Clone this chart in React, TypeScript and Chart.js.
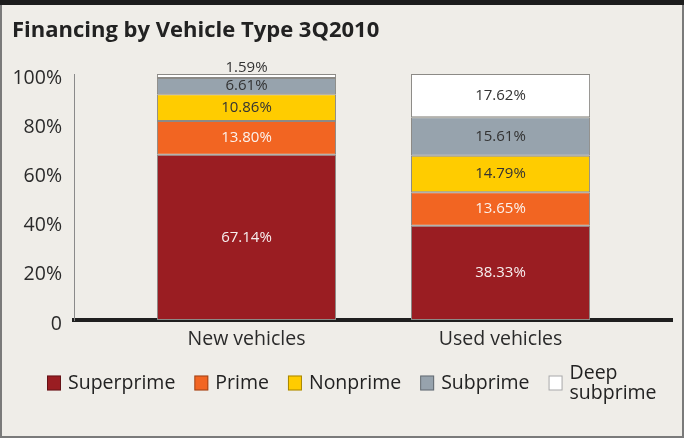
import React, { useEffect, useRef } from "react";
import { Chart, registerables } from "chart.js";

Chart.register(...registerables);

const categories = ["New vehicles", "Used vehicles"];
const seriesNames = ["Superprime", "Prime", "Nonprime", "Subprime", "Deep subprime"];
const superprime = [67.14, 38.33];
const prime = [13.8, 13.65];
const nonprime = [10.86, 14.79];
const subprime = [6.61, 15.61];
const deepSubprime = [1.59, 17.62];
const yTicks = [0, 20, 40, 60, 80, 100];
const title = "Financing by Vehicle Type 3Q2010";

const seriesValues = [superprime, prime, nonprime, subprime, deepSubprime];
const colors = ["#9a1d22", "#f26522", "#ffcc00", "#97a3ad", "#ffffff"];
const labelColors = ["#f7efef", "#fbf1ec", "#333333", "#333333", "#333333"];
const FONT = "'Open Sans', 'DejaVu Sans', sans-serif";

const framePlugin = {
  id: "frame",
  beforeDraw(chart: any) {
    const { ctx, width, height } = chart;
    ctx.save();
    ctx.fillStyle = "#efede8";
    ctx.fillRect(0, 0, width, height);
    ctx.fillStyle = "#1c1c1c";
    ctx.fillRect(0, 0, width, 5);
    ctx.fillStyle = "#7a7a7a";
    ctx.fillRect(0, 5, 2, height - 5);
    ctx.fillRect(width - 2, 5, 2, height - 5);
    ctx.fillRect(0, height - 2, width, 2);
    ctx.fillStyle = "#222222";
    ctx.font = `bold 22px ${FONT}`;
    ctx.textAlign = "left";
    ctx.textBaseline = "alphabetic";
    ctx.fillText(title, 12, 37);
    ctx.restore();
  },
};

const valueLabelPlugin = {
  id: "valueLabels",
  afterDatasetsDraw(chart: any) {
    const { ctx } = chart;
    ctx.save();
    ctx.font = `15px ${FONT}`;
    ctx.textAlign = "center";
    ctx.textBaseline = "middle";
    chart.data.datasets.forEach((ds: any, i: number) => {
      const meta = chart.getDatasetMeta(i);
      meta.data.forEach((bar: any, j: number) => {
        const { x, y, base } = bar.getProps(["x", "y", "base"], true);
        const h = Math.abs(base - y);
        const v = ds.data[j].y;
        const txt = v.toFixed(2) + "%";
        if (h < 12) {
          ctx.fillStyle = "#333333";
          ctx.fillText(txt, x, Math.min(y, base) - 6);
        } else {
          ctx.fillStyle = labelColors[i];
          ctx.fillText(txt, x, (y + base) / 2);
        }
      });
    });
    ctx.restore();
  },
};

const legendPlugin = {
  id: "customLegend",
  afterDraw(chart: any) {
    const { ctx } = chart;
    ctx.save();
    ctx.font = `19.5px ${FONT}`;
    ctx.textBaseline = "middle";
    ctx.textAlign = "left";
    let x = 47;
    const cy = 383;
    seriesNames.forEach((name, i) => {
      ctx.fillStyle = colors[i];
      ctx.fillRect(x, cy - 7.5, 14, 15);
      ctx.strokeStyle = "rgba(0,0,0,0.35)";
      ctx.lineWidth = 1;
      ctx.strokeRect(x + 0.5, cy - 7, 13, 14);
      const lines = name.split(" ");
      ctx.fillStyle = "#222222";
      let w = 0;
      lines.forEach((ln, k) => {
        const ly = cy + (k - (lines.length - 1) / 2) * 20;
        ctx.fillText(ln, x + 21, ly);
        w = Math.max(w, ctx.measureText(ln).width);
      });
      x += 21 + w + 19;
    });
    ctx.restore();
  },
};

export default function App() {
  const ref = useRef<HTMLCanvasElement | null>(null);
  useEffect(() => {
    if (!ref.current) return;
    const chart = new Chart(ref.current, {
      type: "bar",
      data: {
        datasets: seriesNames.map((name, i) => ({
          label: name,
          data: seriesValues[i].map((v, j) => ({ x: j, y: v })),
          backgroundColor: colors[i],
          borderColor: "#8c8a86",
          borderWidth: 1,
          borderSkipped: false,
          categoryPercentage: 1,
          barPercentage: 0.705,
        })),
      },
      options: {
        animation: false,
        responsive: true,
        maintainAspectRatio: false,
        layout: { padding: { top: 74, right: 12, left: 0, bottom: 0 } },
        plugins: {
          legend: { display: false },
          title: { display: false },
          tooltip: { enabled: false },
        },
        scales: {
          x: {
            type: "linear",
            stacked: true,
            offset: false,
            min: -0.679,
            max: 1.675,
            afterBuildTicks: (axis: any) => {
              axis.ticks = categories.map((_, i) => ({ value: i }));
            },
            afterFit: (scale: any) => {
              scale.height = 118;
            },
            grid: { display: false, drawTicks: false, offset: false },
            border: { display: true, color: "#1f1f1f", width: 4 },
            ticks: {
              autoSkip: false,
              maxRotation: 0,
              padding: 8,
              color: "#2a2a2a",
              font: { family: FONT, size: 19.5 },
              callback: (v: any) => categories[v] ?? "",
            },
          },
          y: {
            stacked: true,
            min: 0,
            max: 100,
            afterBuildTicks: (axis: any) => {
              axis.ticks = yTicks.map((v) => ({ value: v }));
            },
            afterFit: (scale: any) => {
              scale.width = 74;
            },
            grid: { display: false, drawTicks: false },
            border: { display: true, color: "#8a8a8a", width: 1 },
            ticks: {
              padding: 12,
              labelOffset: 4,
              color: "#2a2a2a",
              font: { family: FONT, size: 19.5 },
              callback: (v: any) => (v === 0 ? "0" : v + "%"),
            },
          },
        },
      },
      plugins: [framePlugin, valueLabelPlugin, legendPlugin],
    } as any);
    return () => chart.destroy();
  }, []);
  return (
    <div style={{ position: "fixed", left: 0, top: 0, width: 684, height: 438 }}>
      <canvas ref={ref} />
    </div>
  );
}
